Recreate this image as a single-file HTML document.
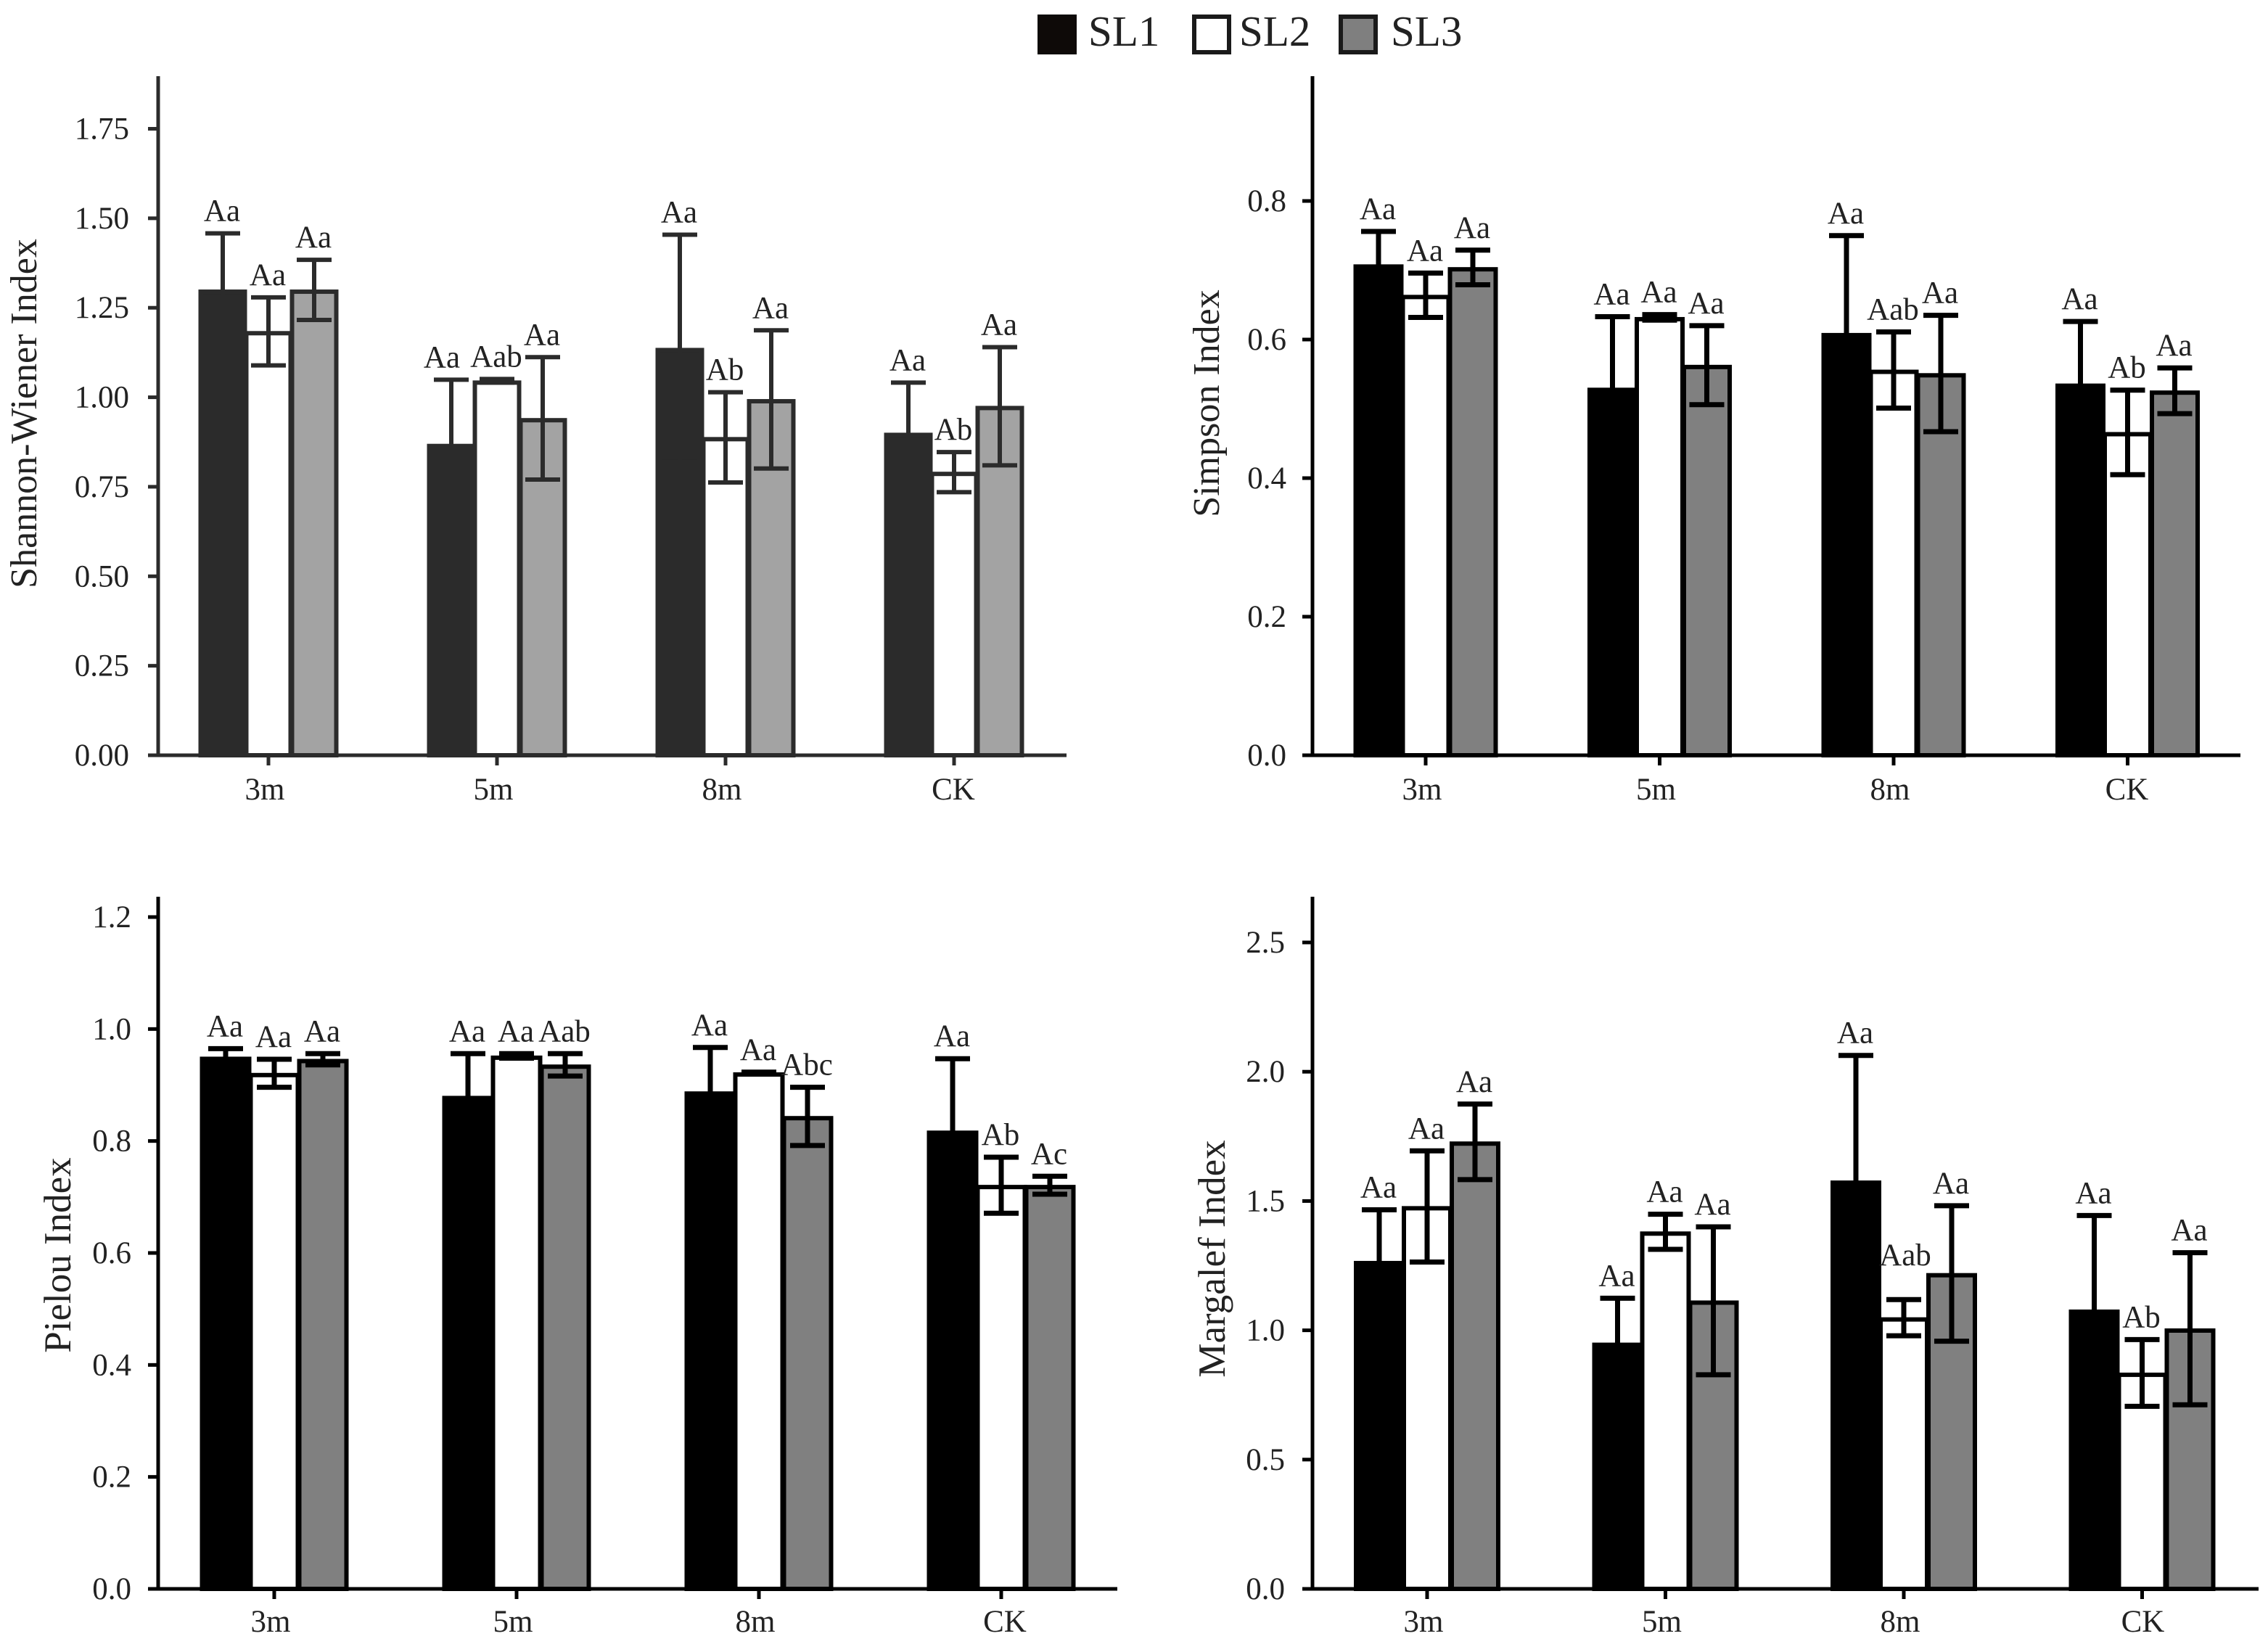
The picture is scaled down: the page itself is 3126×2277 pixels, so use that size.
<!DOCTYPE html>
<html>
<head>
<meta charset="utf-8">
<title>Diversity index bar charts</title>
<style>
html,body{margin:0;padding:0;background:#fff;}
svg{display:block;}
text{font-family:"Liberation Serif",serif;}
</style>
</head>
<body>
<svg id="figure" width="3126" height="2277" viewBox="0 0 3126 2277" xmlns="http://www.w3.org/2000/svg"></svg>
<script>
const categories = ["3m", "5m", "8m", "CK"];
const seriesNames = ["SL1", "SL2", "SL3"];

const shannonSL1 = [1.30, 0.869, 1.137, 0.90];
const shannonSL2 = [1.184, 1.046, 0.888, 0.791];
const shannonSL3 = [1.30, 0.941, 0.994, 0.975];
const shannonErrSL1 = [0.158, 0.18, 0.317, 0.141];
const shannonErrSL2 = [0.095, 0.005, 0.126, 0.056];
const shannonErrSL3 = [0.084, 0.171, 0.193, 0.165];
const shannonLabelsSL1 = ["Aa", "Aa", "Aa", "Aa"];
const shannonLabelsSL2 = ["Aa", "Aab", "Ab", "Ab"];
const shannonLabelsSL3 = ["Aa", "Aa", "Aa", "Aa"];
const shannonTicks = ["0.00", "0.25", "0.50", "0.75", "1.00", "1.25", "1.50", "1.75"];

const simpsonSL1 = [0.708, 0.530, 0.609, 0.536];
const simpsonSL2 = [0.664, 0.632, 0.556, 0.466];
const simpsonSL3 = [0.704, 0.563, 0.551, 0.526];
const simpsonErrSL1 = [0.048, 0.103, 0.141, 0.09];
const simpsonErrSL2 = [0.032, 0.004, 0.055, 0.061];
const simpsonErrSL3 = [0.025, 0.057, 0.084, 0.033];
const simpsonLabelsSL1 = ["Aa", "Aa", "Aa", "Aa"];
const simpsonLabelsSL2 = ["Aa", "Aa", "Aab", "Ab"];
const simpsonLabelsSL3 = ["Aa", "Aa", "Aa", "Aa"];
const simpsonTicks = ["0.0", "0.2", "0.4", "0.6", "0.8"];

const pielouSL1 = [0.950, 0.880, 0.888, 0.818];
const pielouSL2 = [0.921, 0.952, 0.922, 0.721];
const pielouSL3 = [0.946, 0.936, 0.844, 0.721];
const pielouErrSL1 = [0.015, 0.076, 0.079, 0.129];
const pielouErrSL2 = [0.025, 0.004, 0.001, 0.05];
const pielouErrSL3 = [0.01, 0.02, 0.052, 0.016];
const pielouLabelsSL1 = ["Aa", "Aa", "Aa", "Aa"];
const pielouLabelsSL2 = ["Aa", "Aa", "Aa", "Ab"];
const pielouLabelsSL3 = ["Aa", "Aab", "Abc", "Ac"];
const pielouTicks = ["0.0", "0.2", "0.4", "0.6", "0.8", "1.0", "1.2"];

const margalefSL1 = [1.267, 0.951, 1.578, 1.079];
const margalefSL2 = [1.479, 1.381, 1.049, 0.835];
const margalefSL3 = [1.729, 1.114, 1.22, 1.006];
const margalefErrSL1 = [0.199, 0.173, 0.485, 0.365];
const margalefErrSL2 = [0.215, 0.068, 0.07, 0.129];
const margalefErrSL3 = [0.146, 0.286, 0.262, 0.294];
const margalefLabelsSL1 = ["Aa", "Aa", "Aa", "Aa"];
const margalefLabelsSL2 = ["Aa", "Aa", "Aab", "Ab"];
const margalefLabelsSL3 = ["Aa", "Aa", "Aa", "Aa"];
const margalefTicks = ["0.0", "0.5", "1.0", "1.5", "2.0", "2.5"];

const NS = "http://www.w3.org/2000/svg";
const root = document.getElementById("figure");

function make(parent, tag, attrs, content) {
  const el = document.createElementNS(NS, tag);
  for (const k in attrs) el.setAttribute(k, attrs[k]);
  if (content !== undefined) el.textContent = content;
  parent.appendChild(el);
  return el;
}

const dark = {ink: "#2b2b2b", fills: ["#2b2b2b", "#ffffff", "#a3a3a3"]};
const pure = {ink: "#000000", fills: ["#000000", "#ffffff", "#808080"]};

const panels = [
  {id: "shannon", title: "Shannon-Wiener Index", theme: dark,
   means: [shannonSL1, shannonSL2, shannonSL3], errs: [shannonErrSL1, shannonErrSL2, shannonErrSL3],
   labels: [shannonLabelsSL1, shannonLabelsSL2, shannonLabelsSL3], ticks: shannonTicks,
   axisX: 218, top: 105, base: 1041, xEnd: 1470, yMax: 1.75, yMaxPx: 177.5,
   cx0: 370, cxStep: 315, barW: 63, tickRight: 178, titleX: 50, titleY: 570, titleSize: 52, xLabelY: 1102, ckShift: 4,
   errW: 6, nudges: [{series: 0, cat: 1, dx: -12, lift: 0}]},
  {id: "simpson", title: "Simpson Index", theme: pure,
   means: [simpsonSL1, simpsonSL2, simpsonSL3], errs: [simpsonErrSL1, simpsonErrSL2, simpsonErrSL3],
   labels: [simpsonLabelsSL1, simpsonLabelsSL2, simpsonLabelsSL3], ticks: simpsonTicks,
   axisX: 1809, top: 105, base: 1041, xEnd: 3088, yMax: 0.8, yMaxPx: 277,
   cx0: 1965, cxStep: 322.5, barW: 65, tickRight: 1773, titleX: 1680, titleY: 556, titleSize: 52, xLabelY: 1102, ckShift: 4,
   errW: 7, nudges: []},
  {id: "pielou", title: "Pielou Index", theme: pure,
   means: [pielouSL1, pielouSL2, pielouSL3], errs: [pielouErrSL1, pielouErrSL2, pielouErrSL3],
   labels: [pielouLabelsSL1, pielouLabelsSL2, pielouLabelsSL3], ticks: pielouTicks,
   axisX: 218, top: 1236, base: 2190, xEnd: 1540, yMax: 1.2, yMaxPx: 1264,
   cx0: 378, cxStep: 334, barW: 67, tickRight: 181, titleX: 97, titleY: 1730, titleSize: 53, xLabelY: 2249, ckShift: 10,
   errW: 7, nudges: []},
  {id: "margalef", title: "Margalef Index", theme: pure,
   means: [margalefSL1, margalefSL2, margalefSL3], errs: [margalefErrSL1, margalefErrSL2, margalefErrSL3],
   labels: [margalefLabelsSL1, margalefLabelsSL2, margalefLabelsSL3], ticks: margalefTicks,
   axisX: 1809, top: 1236, base: 2190, xEnd: 3113, yMax: 2.5, yMaxPx: 1299,
   cx0: 1967, cxStep: 328.5, barW: 66, tickRight: 1771, titleX: 1688, titleY: 1735, titleSize: 53, xLabelY: 2249, ckShift: 6,
   errW: 7, nudges: [{series: 1, cat: 2, dx: 3, lift: 30}]}
];

panels.forEach(function (p) {
  const g = make(root, "g", {});
  
  
  const yScale = function (v) { return p.base - v * (p.base - p.yMaxPx) / p.yMax; };
  const xScale = function (c) { return p.cx0 + c * p.cxStep; };
  const ink = p.theme.ink;

  // bars
  p.means.forEach(function (vals, s) {
    vals.forEach(function (v, c) {
      const cx = xScale(c) + (s - 1) * p.barW;
      const topY = yScale(v) + 2.5;
      const bar = make(g, "rect", {x: cx - p.barW / 2 + 1, y: topY, width: p.barW - 2, height: p.base - topY,
        fill: p.theme.fills[s], stroke: ink, "stroke-width": 6});
      
      
    });
  });

  // error bars and significance labels
  p.means.forEach(function (vals, s) {
    vals.forEach(function (v, c) {
      const cx = xScale(c) + (s - 1) * p.barW;
      const e = p.errs[s][c];
      const hi = yScale(v + e), lo = yScale(v - e);
      const eb = make(g, "path", {
        d: "M" + cx + " " + lo + "V" + hi + "M" + (cx - 24) + " " + hi + "H" + (cx + 24) + "M" + (cx - 24) + " " + lo + "H" + (cx + 24),
        fill: "none", stroke: ink, "stroke-width": p.errW});
      
      
      const n = p.nudges.find(function (m) { return m.series === s && m.cat === c; }) || {dx: 0, lift: 0};
      const lab = make(g, "text", {x: cx - 1 + n.dx, y: hi - 17 - n.lift, "text-anchor": "middle", "font-size": 43, fill: "#222"}, p.labels[s][c]);
      
      
    });
  });

  // y axis
  const yAxis = make(g, "line", {x1: p.axisX, x2: p.axisX, y1: p.top, y2: p.base + 2.5, stroke: ink, "stroke-width": 5});
  
  
  p.ticks.forEach(function (t) {
    const y = yScale(parseFloat(t));
    const tick = make(g, "line", {x1: p.axisX - 14, x2: p.axisX, y1: y, y2: y, stroke: ink, "stroke-width": 5});
    
    
    const lab = make(g, "text", {x: p.tickRight, y: y + 14, "text-anchor": "end", "font-size": 43, fill: "#222"}, t);
    
    
  });

  // x axis
  const xAxis = make(g, "line", {x1: p.axisX - 14, x2: p.xEnd, y1: p.base, y2: p.base, stroke: ink, "stroke-width": 5});
  
  
  categories.forEach(function (name, c) {
    const x = xScale(c);
    const tick = make(g, "line", {x1: x, x2: x, y1: p.base, y2: p.base + 14, stroke: ink, "stroke-width": 5});
    
    
    const shift = c === categories.length - 1 ? p.ckShift : 0;
    const lab = make(g, "text", {x: x - 5 + shift, y: p.xLabelY, "text-anchor": "middle", "font-size": 43, fill: "#222"}, name);
    
    
  });

  // y title
  const title = make(g, "text", {transform: "translate(" + p.titleX + " " + p.titleY + ") rotate(-90)", "text-anchor": "middle", "font-size": p.titleSize, fill: "#222"}, p.title);
  
  
});

// legend
const legend = make(root, "g", {});


const legendFills = ["#0e0a08", "#ffffff", "#7f7f7f"];
const legendBoxX = [1433, 1646, 1848];
const legendTextX = [1500, 1708, 1917];
seriesNames.forEach(function (name, i) {
  const box = make(legend, "rect", {x: legendBoxX[i], y: 23, width: 48, height: 49, fill: legendFills[i], stroke: i === 0 ? "#0e0a08" : "#1a1a1a", "stroke-width": 6});
  
  
  const lab = make(legend, "text", {x: legendTextX[i], y: 63, "font-size": 59, fill: "#222"}, name);
  
  
});
</script>
</body>
</html>
